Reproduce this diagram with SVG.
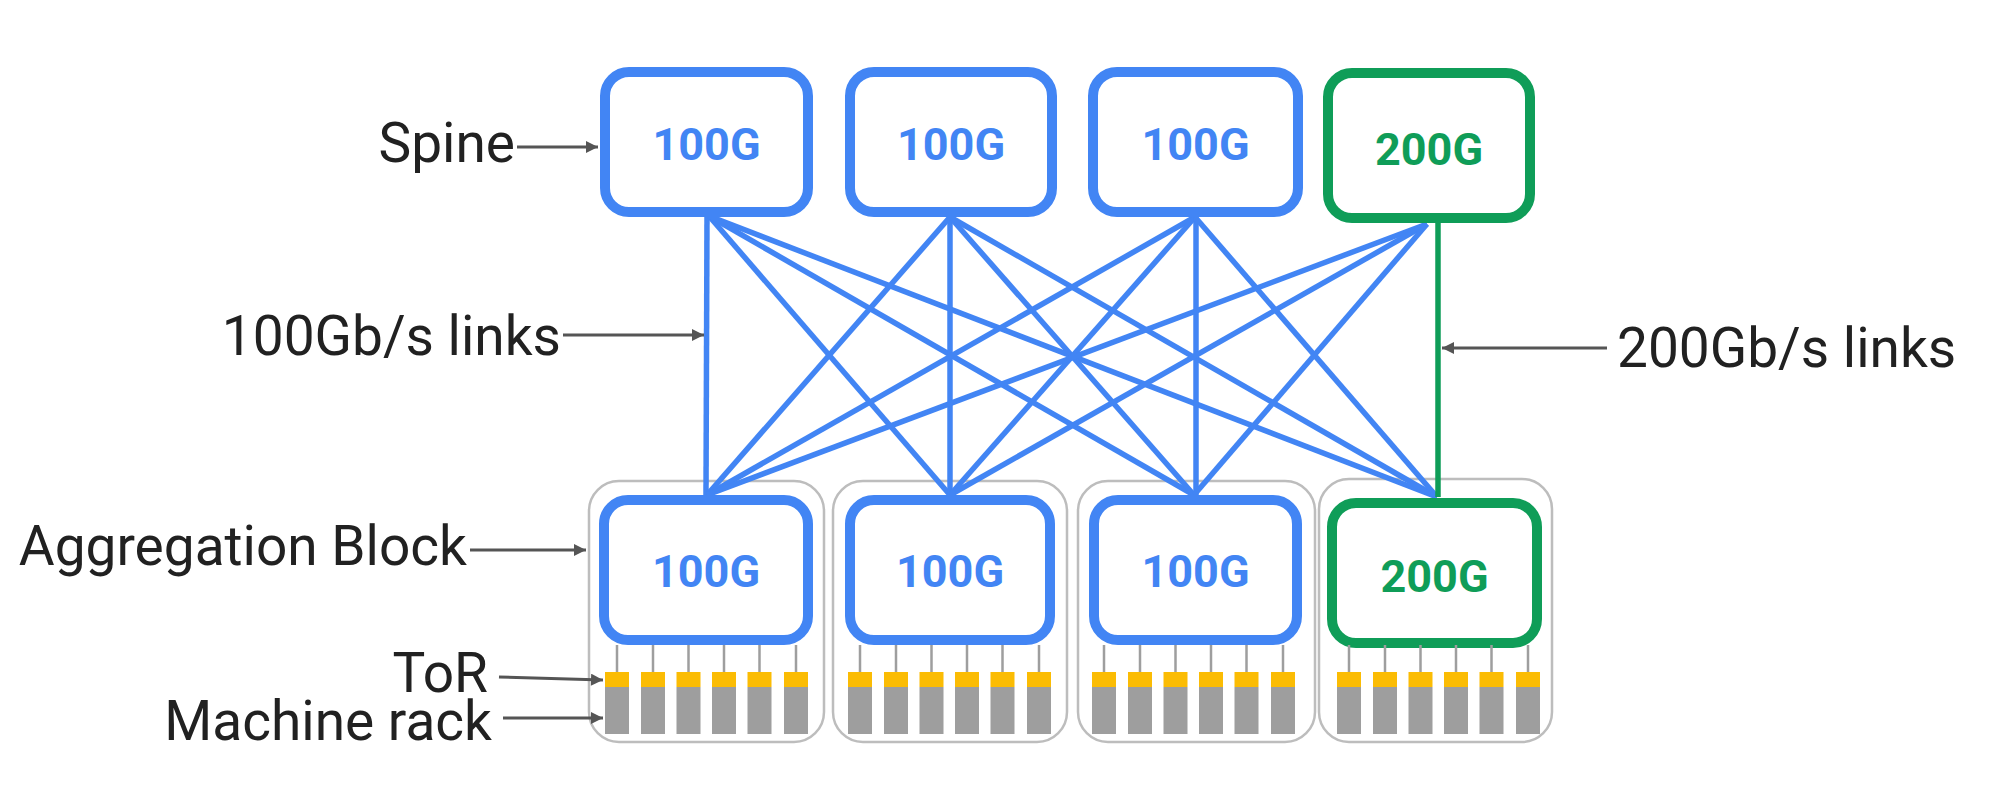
<svg xmlns="http://www.w3.org/2000/svg" width="2000" height="793" viewBox="0 0 2000 793">
<style>
text{font-family:Roboto,"Liberation Sans",sans-serif}
.lbl{font-size:55px;fill:#212121}
.b{fill:#fff;stroke:#4285F4;stroke-width:10}
.g{fill:#fff;stroke:#0F9D58;stroke-width:10}
.bt{font-size:45px;font-weight:700;fill:#4285F4;text-anchor:middle}
.gt{font-size:45px;font-weight:700;fill:#0F9D58;text-anchor:middle}
.cont{fill:#fff;stroke:#BDBDBD;stroke-width:2.5}
.tor{fill:#FBBC04}
.rack{fill:#9E9E9E}
.wire{stroke:#9E9E9E;stroke-width:2.5}
.lb{stroke:#4285F4;stroke-width:5.5;fill:none}
.lg{stroke:#0F9D58;stroke-width:5.5;fill:none}
.ann{stroke:#555;stroke-width:3;fill:none;marker-end:url(#ah)}
</style>
<defs>
<marker id="ah" viewBox="0 0 10 10" refX="10" refY="5" markerWidth="16" markerHeight="12" markerUnits="userSpaceOnUse" orient="auto">
<path d="M0,0 L10,5 L0,10 z" fill="#555"/>
</marker>
<g id="racks">
<line class="wire" x1="12" y1="0" x2="12" y2="27"/><rect class="tor" x="0" y="27" width="24" height="15"/><rect class="rack" x="0" y="42" width="24" height="47"/>
<line class="wire" x1="48" y1="0" x2="48" y2="27"/><rect class="tor" x="36" y="27" width="24" height="15"/><rect class="rack" x="36" y="42" width="24" height="47"/>
<line class="wire" x1="83.5" y1="0" x2="83.5" y2="27"/><rect class="tor" x="71.5" y="27" width="24" height="15"/><rect class="rack" x="71.5" y="42" width="24" height="47"/>
<line class="wire" x1="119" y1="0" x2="119" y2="27"/><rect class="tor" x="107" y="27" width="24" height="15"/><rect class="rack" x="107" y="42" width="24" height="47"/>
<line class="wire" x1="154.5" y1="0" x2="154.5" y2="27"/><rect class="tor" x="142.5" y="27" width="24" height="15"/><rect class="rack" x="142.5" y="42" width="24" height="47"/>
<line class="wire" x1="191" y1="0" x2="191" y2="27"/><rect class="tor" x="179" y="27" width="24" height="15"/><rect class="rack" x="179" y="42" width="24" height="47"/>
</g>
</defs>
<rect width="2000" height="793" fill="#fff"/>

<g id="containers">
<rect class="cont" x="589" y="481" width="235" height="261" rx="30"/>
<rect class="cont" x="833" y="481" width="234" height="261" rx="30"/>
<rect class="cont" x="1078" y="481" width="237" height="261" rx="30"/>
<rect class="cont" x="1319" y="479" width="233" height="263" rx="30"/>
</g>

<g id="connectors">
<line class="lb" x1="707" y1="216" x2="706" y2="495"/>
<line class="lb" x1="709" y1="216" x2="950" y2="495"/>
<line class="lb" x1="709" y1="216" x2="1194" y2="495"/>
<line class="lb" x1="709" y1="216" x2="1437" y2="497"/>
<line class="lb" x1="950" y1="217" x2="707" y2="495"/>
<line class="lb" x1="950" y1="217" x2="950" y2="495"/>
<line class="lb" x1="950" y1="217" x2="1194" y2="495"/>
<line class="lb" x1="950" y1="217" x2="1437" y2="497"/>
<line class="lb" x1="1195" y1="217" x2="707" y2="495"/>
<line class="lb" x1="1195" y1="217" x2="950" y2="495"/>
<line class="lb" x1="1196" y1="217" x2="1196" y2="495"/>
<line class="lb" x1="1195" y1="217" x2="1437" y2="497"/>
<line class="lb" x1="1427" y1="224" x2="707" y2="495"/>
<line class="lb" x1="1427" y1="224" x2="950" y2="495"/>
<line class="lb" x1="1427" y1="224" x2="1194" y2="495"/>
<line class="lg" x1="1438" y1="223" x2="1438" y2="497"/>
</g>

<g id="spine1"><rect class="b" x="605" y="72" width="203" height="140" rx="24"/><text class="bt" x="706.5" y="160">100G</text></g>
<g id="spine2"><rect class="b" x="850" y="72" width="202" height="140" rx="24"/><text class="bt" x="951" y="160">100G</text></g>
<g id="spine3"><rect class="b" x="1093" y="72" width="205" height="140" rx="24"/><text class="bt" x="1195.5" y="160">100G</text></g>
<g id="spine4"><rect class="g" x="1328" y="73" width="202" height="145" rx="24"/><text class="gt" x="1429" y="165">200G</text></g>

<g id="agg1"><rect class="b" x="604" y="500" width="204" height="140" rx="24"/><text class="bt" x="706" y="587">100G</text><use href="#racks" x="605" y="645"/></g>
<g id="agg2"><rect class="b" x="850" y="500" width="200" height="140" rx="24"/><text class="bt" x="950" y="587">100G</text><use href="#racks" x="848" y="645"/></g>
<g id="agg3"><rect class="b" x="1094" y="500" width="203" height="140" rx="24"/><text class="bt" x="1195.5" y="587">100G</text><use href="#racks" x="1092" y="645"/></g>
<g id="agg4"><rect class="g" x="1332" y="503" width="205" height="140" rx="24"/><text class="gt" x="1434.5" y="592">200G</text><use href="#racks" x="1337" y="645"/></g>

<g id="labels">
<text class="lbl" x="515" y="162" text-anchor="end">Spine</text>
<line class="ann" x1="517" y1="147" x2="598" y2="147"/>
<text class="lbl" x="561" y="355" text-anchor="end">100Gb/s links</text>
<line class="ann" x1="563" y1="335" x2="704" y2="335"/>
<text class="lbl" x="1617" y="367">200Gb/s links</text>
<line class="ann" x1="1607" y1="348" x2="1442" y2="348"/>
<text class="lbl" x="467" y="565" text-anchor="end">Aggregation Block</text>
<line class="ann" x1="470" y1="550" x2="586" y2="550"/>
<text class="lbl" x="488" y="692" text-anchor="end">ToR</text>
<line class="ann" x1="499" y1="677" x2="603" y2="680"/>
<text class="lbl" x="492" y="740" text-anchor="end">Machine rack</text>
<line class="ann" x1="503" y1="718" x2="603" y2="718"/>
</g>
</svg>
